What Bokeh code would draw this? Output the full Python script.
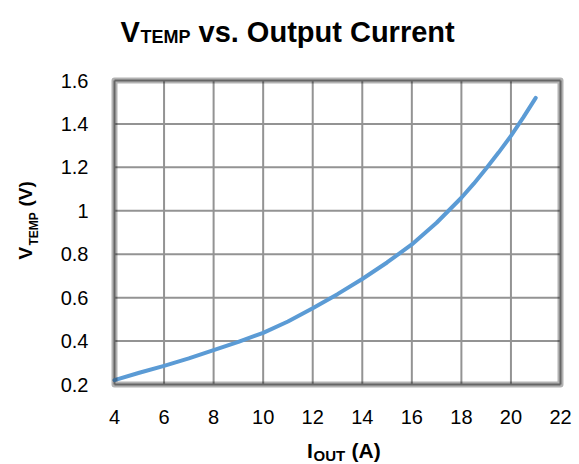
import math
from bokeh.plotting import figure
from bokeh.models import Label, FixedTicker, Range1d, BoxAnnotation
from bokeh.embed import file_html
from bokeh.resources import INLINE

# ---- data ----
i_out = [4, 5, 6, 7, 8, 9, 10, 11, 12, 13, 14, 15, 16, 17, 18, 18.5, 19, 19.5, 20, 20.5, 21]
v_temp = [0.22, 0.254, 0.286, 0.32, 0.358, 0.396, 0.438, 0.49, 0.551, 0.616, 0.686,
          0.762, 0.845, 0.945, 1.06, 1.125, 1.195, 1.268, 1.345, 1.43, 1.52]

x_ticks = [4, 6, 8, 10, 12, 14, 16, 18, 20, 22]
x_tick_labels = ["4", "6", "8", "10", "12", "14", "16", "18", "20", "22"]
y_ticks = [0.2, 0.4, 0.6, 0.8, 1.0, 1.2, 1.4, 1.6]
y_tick_labels = ["0.2", "0.4", "0.6", "0.8", "1", "1.2", "1.4", "1.6"]

title_main = "V"
title_sub = "TEMP"
title_rest = "vs. Output Current"
xlabel_main = "I"
xlabel_sub = "OUT"
xlabel_rest = "(A)"
ylabel_main = "V"
ylabel_sub = "TEMP"
ylabel_rest = "(V)"

X0, X1 = 4, 22
Y0, Y1 = 0.2, 1.6

# ---- layout (pixels of the plot area box) ----
W, H = 579, 464
FL, FT = 114, 80
FW, FH = 446, 304
FR, FB = FL + FW, FT + FH

FONT = "Liberation Sans"


def dx(px):
    return X0 + (px - FL) * (X1 - X0) / FW


def dy(py):
    return Y0 + (FB - py) * (Y1 - Y0) / FH


p = figure(width=W, height=H, output_backend="svg", toolbar_location=None,
           x_range=Range1d(dx(0), dx(W)), y_range=Range1d(dy(H), dy(0)),
           min_border=0, min_border_left=0, min_border_right=0,
           min_border_top=0, min_border_bottom=0,
           background_fill_color="white", border_fill_color="white")
p.outline_line_color = None
p.xgrid.visible = False
p.ygrid.visible = False

for ax in (p.xaxis[0], p.yaxis[0]):
    ax.axis_line_color = None
    ax.major_tick_line_color = None
    ax.minor_tick_line_color = None
    ax.major_label_text_font = FONT
    ax.major_label_text_font_size = "20px"
    ax.major_label_text_color = "black"

p.xaxis.fixed_location = Y0
p.yaxis.fixed_location = X0
p.xaxis.ticker = FixedTicker(ticks=x_ticks)
p.yaxis.ticker = FixedTicker(ticks=y_ticks)
p.xaxis.major_label_overrides = dict(zip(x_ticks, x_tick_labels))
p.yaxis.major_label_overrides = dict(zip(y_ticks, y_tick_labels))
p.xaxis.major_label_standoff = 19
p.yaxis.major_label_standoff = 20

# grid lines at the tick positions, limited to the plot area
GRID = "#939393"
p.segment(x0=x_ticks, y0=[Y0] * len(x_ticks), x1=x_ticks, y1=[Y1] * len(x_ticks),
          line_color=GRID, line_width=2)
p.segment(x0=[X0] * len(y_ticks), y0=y_ticks, x1=[X1] * len(y_ticks), y1=y_ticks,
          line_color=GRID, line_width=2)

p.line(i_out, v_temp, line_color="#5B9BD5", line_width=4, line_join="round", line_cap="round")

# plot-area border
p.add_layout(BoxAnnotation(left=X0, right=X1, bottom=Y0, top=Y1,
                           fill_alpha=0, fill_color=None,
                           line_color="black", line_width=6, line_join="round"))


def add_text(txt, px, py, size, angle=0.0):
    p.add_layout(Label(x=dx(px), y=dy(py), text=txt, text_font=FONT,
                       text_font_size=f"{size}px", text_font_style="bold",
                       text_color="black", text_align="left",
                       text_baseline="alphabetic", angle=angle))


# title
add_text(title_main, 120, 31, 29)
add_text(title_sub, 140, 36, 18)
add_text(title_rest, 198, 31, 29)

# x label
add_text(xlabel_main, 306.5, 450, 21)
add_text(xlabel_sub, 313, 455, 15)
add_text(xlabel_rest, 351, 450, 21)

# y label (rotated)
add_text(ylabel_main, 25, 259, 19, math.pi / 2)
add_text(ylabel_sub, 33, 245, 12, math.pi / 2)
add_text(ylabel_rest, 25, 206, 19, math.pi / 2)

open("out.html", "w").write(file_html(p, INLINE))
